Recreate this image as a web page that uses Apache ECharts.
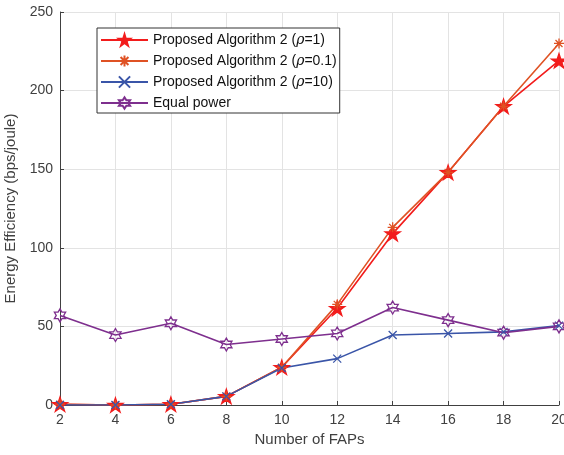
<!DOCTYPE html>
<html>
<head>
<meta charset="utf-8">
<script src="https://cdn.jsdelivr.net/npm/echarts@6/dist/echarts.min.js"></script>
<style>
  html, body { margin: 0; padding: 0; background: #fff; }
  #chart { width: 564px; height: 455px; }
</style>
</head>
<body>
<div id="chart"></div>
<script>
// number of FAPs
var faps = [2, 4, 6, 8, 10, 12, 14, 16, 18, 20]
// energy efficiency (bps/joule)
var rho1 = [0.5, 0, 0.5, 5.5, 24, 61.5, 109, 148, 190, 219]
var rho01 = [0.5, 0, 0.5, 5.5, 24, 64, 113, 148, 190, 230]
var rho10 = [0, 0, 0.5, 5.5, 23.5, 29.5, 44.5, 45.5, 46.5, 50.5]
var equalPower = [57, 44.5, 52, 38.5, 42, 45.5, 62, 54, 46, 50]

var seriesNames = ['Proposed Algorithm 2 (ρ=1)', 'Proposed Algorithm 2 (ρ=0.1)', 'Proposed Algorithm 2 (ρ=10)', 'Equal power']

// marker shapes (MATLAB style)
var pentagram = 'path://M10 0 L12.245 6.91 L19.511 6.91 L13.633 11.18 L15.878 18.09 L10 13.82 L4.122 18.09 L6.367 11.18 L0.489 6.91 L7.755 6.91 Z'
var hexagram = 'path://M10 0 L12.887 5 L18.66 5 L15.774 10 L18.66 15 L12.887 15 L10 20 L7.113 15 L1.34 15 L4.226 10 L1.34 5 L7.113 5 Z'
var asterisk = 'path://M10 0 L10 20 M0 10 L20 10 M3 3 L17 17 M17 3 L3 17'
var cross = 'path://M0 0 L20 20 M20 0 L0 20'

function pairs(ys) {
  return faps.map(function(x, i) { return [x, ys[i]] })
}

function makeSeries(name, ys, color, symbol, size, fill) {
  return {
    name: name,
    type: 'line',
    data: pairs(ys),
    symbol: symbol,
    symbolSize: size,
    symbolKeepAspect: true,
    lineStyle: { color: color, width: 1.6 },
    itemStyle: { color: fill, borderColor: color, borderWidth: 1.3 },
    color: color,
    animation: false
  }
}

var chart = echarts.init(document.getElementById('chart'))
var axisColor = '#404040'
var fontFamily = 'Liberation Sans, Arial, sans-serif'

chart.setOption({
  textStyle: { fontFamily: fontFamily },
  grid: {
    left: 60,
    right: 5,
    top: 12,
    bottom: 50,
    outerBoundsMode: 'none'
  },
  legend: {
    orient: 'vertical',
    left: 97,
    top: 28,
    itemWidth: 47,
    itemHeight: 14,
    itemGap: 7,
    padding: [5, 3, 3, 3],
    borderColor: '#333',
    borderWidth: 1,
    backgroundColor: '#fff',
    data: seriesNames,
    formatter: function(name) {
      return name.replace('ρ', '{i|ρ}')
    },
    textStyle: {
      fontSize: 14,
      color: '#111',
      rich: {
        i: { fontStyle: 'italic', fontSize: 14, fontFamily: 'DejaVu Serif', color: '#111' }
      }
    }
  },
  xAxis: {
    type: 'value',
    min: 2,
    max: 20,
    interval: 2,
    name: 'Number of FAPs',
    nameLocation: 'middle',
    nameGap: 27,
    nameTextStyle: { fontSize: 15, color: axisColor },
    axisLine: { lineStyle: { color: axisColor } },
    axisTick: { inside: true, length: 4, lineStyle: { color: axisColor } },
    axisLabel: { fontSize: 14, color: axisColor, margin: 8 },
    splitLine: { lineStyle: { color: '#e3e3e3' } }
  },
  yAxis: {
    type: 'value',
    min: 0,
    max: 250,
    interval: 50,
    name: 'Energy Efficiency (bps/joule)',
    nameLocation: 'middle',
    nameGap: 35,
    nameTextStyle: { fontSize: 15, color: axisColor },
    axisLine: { show: true, lineStyle: { color: axisColor } },
    axisTick: { show: true, inside: true, length: 4, lineStyle: { color: axisColor } },
    axisLabel: { fontSize: 14, color: axisColor, margin: 7 },
    splitLine: { lineStyle: { color: '#e3e3e3' } }
  },
  series: [
    makeSeries(seriesNames[0], rho1, '#f21c1c', pentagram, 15, '#f21c1c'),
    makeSeries(seriesNames[1], rho01, '#df5224', asterisk, 10, '#df5224'),
    makeSeries(seriesNames[2], rho10, '#3a55a8', cross, 8, '#3a55a8'),
    makeSeries(seriesNames[3], equalPower, '#7e2f8e', hexagram, 13, 'rgba(255,255,255,0)')
  ]
})
</script>
</body>
</html>
